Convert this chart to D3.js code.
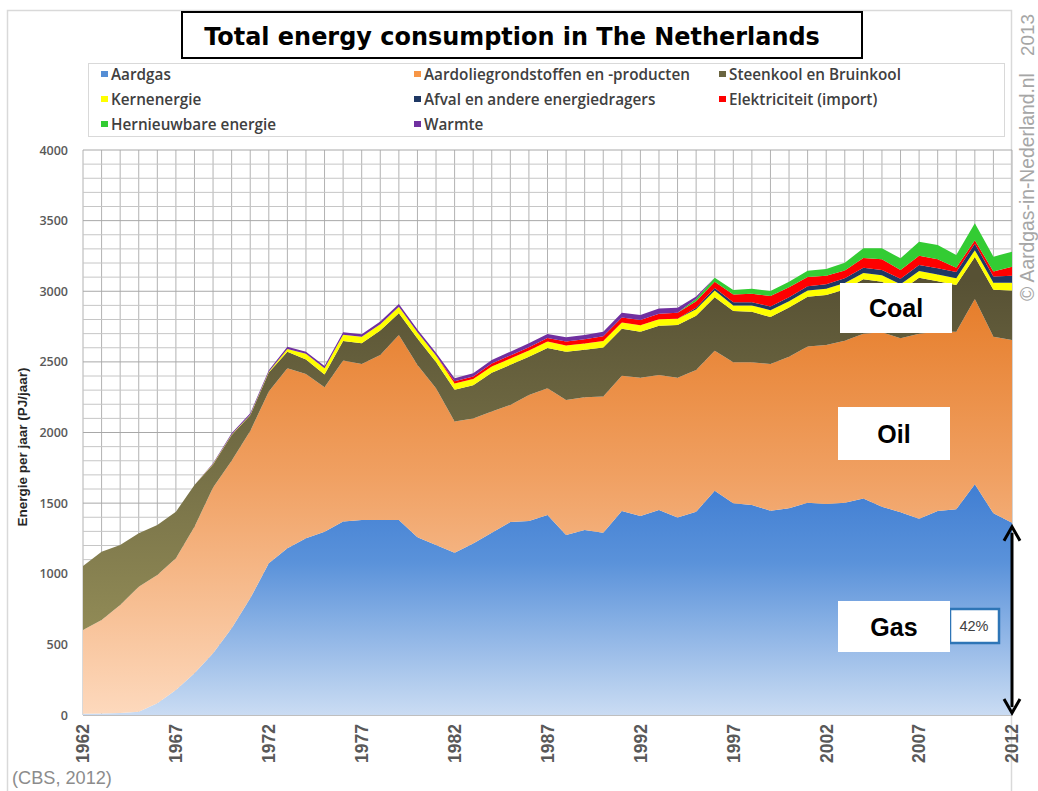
<!DOCTYPE html>
<html><head><meta charset="utf-8">
<script src="https://cdn.jsdelivr.net/npm/d3@7"></script>
<style>html,body{margin:0;padding:0;background:#fff;} svg{display:block;}</style>
</head><body>
<svg id="chart" width="1038" height="791"></svg>
<script>
// ---------------- DATA (PJ per year) ----------------
const years = [1962,1963,1964,1965,1966,1967,1968,1969,1970,1971,1972,1973,1974,1975,1976,1977,1978,1979,1980,1981,
  1982,1983,1984,1985,1986,1987,1988,1989,1990,1991,1992,1993,1994,1995,1996,1997,1998,1999,2000,2001,
  2002,2003,2004,2005,2006,2007,2008,2009,2010,2011,2012];
const aardgas = [8,10,15,23,83,177,295,437,614,826, 1074,1180,1251,1298,1370,1380,1380,1380,1258,1203,
  1149,1215,1291,1366,1373,1416,1274,1310,1291,1444, 1409,1451,1399,1439,1588,1499,1487,1446,1463,1503,
  1494,1503,1532,1475,1435,1390,1444,1456,1633,1428, 1361];
const aardolie = [594,663,764,885,908,932,1038,1173,1186,1184, 1216,1274,1164,1022,1140,1105,1169,1310,1220,1110,
  928,885,857,829,893,897,956,939,963,958, 979,956,989,1003,991,998,1010,1039,1074,1105,
  1126,1147,1168,1235,1232,1310,1270,1258,1312,1250, 1294];
const steenkool = [453,483,425,378,354,330,295,164,182,112, 135,118,102,90,137,147,173,155,187,187,
  225,234,275,284,270,286,341,336,348,332, 326,349,373,385,378,363,357,333,348,353,
  353,363,385,358,337,396,357,330,298,332, 351];
const kernenergie = [0,0,0,0,0,0,0,3,4,4, 5,20,40,45,45,45,45,45,45,45,
  45,45,45,45,45,45,45,45,45,45, 45,45,45,45,48,40,45,48,45,45,
  45,45,45,45,45,48,48,48,48,50, 55];
const afval = [0,0,0,0,0,0,0,0,0,0, 0,0,0,0,0,0,0,0,0,0,
  0,0,0,0,0,0,0,0,0,0, 0,0,0,12,18,22,24,26,28,30,
  32,34,36,38,40,42,44,45,45,45, 48];
const elektriciteit = [0,0,0,0,0,0,0,0,0,0, 0,0,0,0,0,0,0,0,0,0,
  15,18,20,22,22,25,28,30,35,35, 38,40,42,45,45,55,60,75,70,65,
  60,55,70,75,62,65,64,30,25,35, 65];
const hernieuwbaar = [0,0,0,0,0,0,0,0,0,0, 0,0,0,0,0,0,0,0,0,0,
  0,0,0,0,0,0,0,0,0,0, 0,0,0,18,28,32,35,35,40,45,
  48,55,68,78,82,100,100,90,120,105, 106];
const warmte = [0,0,0,0,0,0,0,5,8,10, 10,15,15,15,18,18,18,20,20,20,
  22,22,25,26,28,28,30,30,32,34, 35,36,36,15,0,0,0,0,0,0,
  0,0,0,0,0,0,0,0,0,0, 0];

const seriesNames = ["Aardgas","Aardoliegrondstoffen en -producten","Steenkool en Bruinkool","Kernenergie",
  "Afval en andere energiedragers","Elektriciteit (import)","Hernieuwbare energie","Warmte"];
const seriesValues = [aardgas, aardolie, steenkool, kernenergie, afval, elektriciteit, hernieuwbaar, warmte];
const yTicks = [0,500,1000,1500,2000,2500,3000,3500,4000];
const xTickYears = [1962,1967,1972,1977,1982,1987,1992,1997,2002,2007,2012];
const titleText = "Total energy consumption in The Netherlands";
const yAxisTitle = "Energie per jaar (PJ/jaar)";
const sourceText = "(CBS, 2012)";
const watermarkText = "\u00A9 Aardgas-in-Nederland.nl";
const watermarkYear = "2013";
const gasShareText = "42%";

// ---------------- LAYOUT ----------------
const svg = d3.select("#chart");
const X0 = 83, X1 = 1012, Y0 = 715, Y1 = 150;
const x = d3.scaleLinear().domain([1962, 2012]).range([X0, X1]);
const y = d3.scaleLinear().domain([0, 4000]).range([Y0, Y1]);

// scale a text's font so that it spans a target width
function fitWidth(sel, target) {
  const fs = +sel.attr("font-size");
  const w = sel.node().getComputedTextLength();
  if (w > 0) sel.attr("font-size", (fs * target / w).toFixed(2));
  return sel;
}

const solid = ["#558ed5","#f79646","#6b6540","#ffff00","#1f3864","#ff0000","#33cc33","#7030a0"];

const defs = svg.append("defs");
function grad(id, stops, ya, yb) {
  const g = defs.append("linearGradient").attr("id", id).attr("gradientUnits","userSpaceOnUse")
    .attr("x1",0).attr("x2",0).attr("y1",ya).attr("y2",yb);
  stops.forEach(s => g.append("stop").attr("offset", s[0]).attr("stop-color", s[1]));
}
grad("gGas", [[0,"#3f7dd2"],[0.35,"#5a92da"],[1,"#cadcf3"]], 480, 715);
grad("gOil", [[0,"#e57a25"],[0.45,"#f0a062"],[1,"#fdd9bd"]], 280, 715);
grad("gCoal", [[0,"#575134"],[1,"#928c57"]], 280, 640);
const fills = ["url(#gGas)","url(#gOil)","url(#gCoal)","#ffff00","#1f3864","#ff0000","#33cc33","#7030a0"];

svg.append("rect").attr("width",1038).attr("height",791).attr("fill","#fff");
svg.append("rect").attr("x",7.5).attr("y",10.5).attr("width",1004).attr("height",790)
  .attr("fill","none").attr("stroke","#d9d9d9").attr("stroke-width",1.5);

// title
svg.append("rect").attr("x",182).attr("y",12).attr("width",680).attr("height",46)
  .attr("fill","#fff").attr("stroke","#000").attr("stroke-width",2);
fitWidth(svg.append("text").attr("x",512).attr("y",45).attr("text-anchor","middle")
  .attr("font-family","DejaVu Sans").attr("font-weight","bold").attr("font-size",23)
  .attr("fill","#000").text(titleText), 616);

// legend
svg.append("rect").attr("x",88.5).attr("y",63.5).attr("width",916).attr("height",73)
  .attr("fill","#fff").attr("stroke","#d9d9d9").attr("stroke-width",1);
const legPos = [[101,75],[414,75],[719,75],[101,100],[414,100],[719,100],[101,125],[414,125]];
const legTexts = [];
seriesNames.forEach((n,i) => {
  const [lx, ly] = legPos[i];
  svg.append("rect").attr("x",lx).attr("y",ly-4).attr("width",7).attr("height",6).attr("fill",solid[i]);
  legTexts.push(svg.append("text").attr("x",lx+10).attr("y",ly+4.5)
    .attr("font-family","Open Sans").attr("font-weight","600").attr("font-size",14)
    .attr("fill","#404040").text(n));
});
fitWidth(legTexts[1], 266);
const legFs = legTexts[1].attr("font-size");
legTexts.forEach(t => t.attr("font-size", legFs));

// grid
const grid = svg.append("g");
years.forEach(yr => grid.append("line").attr("x1",x(yr)).attr("x2",x(yr)).attr("y1",Y1).attr("y2",Y0)
  .attr("stroke","#b2b2b2").attr("stroke-width",1));
d3.range(0, 4001, 100).forEach(v => grid.append("line").attr("x1",X0).attr("x2",X1).attr("y1",y(v)).attr("y2",y(v))
  .attr("stroke", v % 500 === 0 ? "#a8a8a8" : "#c6c6c6").attr("stroke-width",1));

// stacked areas
const rows = years.map((yr,i) => { const o = {year: yr}; seriesNames.forEach((n,k) => o[n] = seriesValues[k][i]); return o; });
const stack = d3.stack().keys(seriesNames).order(d3.stackOrderNone).offset(d3.stackOffsetNone);
const layers = stack(rows);
const area = d3.area().x(d => x(d.data.year)).y0(d => y(d[0])).y1(d => y(d[1])).curve(d3.curveLinear);
svg.append("g").selectAll("path").data(layers).join("path")
  .attr("d", area).attr("fill", (d,i) => fills[i]);

svg.append("line").attr("x1",X0).attr("x2",X1).attr("y1",Y0+0.5).attr("y2",Y0+0.5).attr("stroke","#bfbfbf");

// y tick labels
yTicks.forEach(v => svg.append("text").attr("x",68).attr("y",y(v)+4.5).attr("text-anchor","end")
  .attr("font-family","Open Sans").attr("font-weight","600").attr("font-size",12.5)
  .attr("fill","#595959").text(v));
// x tick labels
xTickYears.forEach(yr => svg.append("text")
  .attr("transform",`translate(${x(yr)},724) rotate(-90)`).attr("dy","0.36em")
  .attr("text-anchor","end").attr("font-family","Liberation Sans").attr("font-weight","bold")
  .attr("font-size",17.5).attr("fill","#595959").text(yr));
// y axis title
svg.append("text").attr("transform","translate(22,447) rotate(-90)").attr("dy","0.35em")
  .attr("text-anchor","middle").attr("font-family","Liberation Sans")
  .attr("font-weight","bold").attr("font-size",13.5).attr("fill","#262626").text(yAxisTitle);
// source
fitWidth(svg.append("text").attr("x",12).attr("y",784).attr("font-family","Liberation Sans")
  .attr("font-size",17).attr("fill","#8c8c8c").text(sourceText), 100);
// watermark
fitWidth(svg.append("text").attr("transform","translate(1027,301) rotate(-90)").attr("dy","0.36em")
  .attr("font-family","Liberation Sans").attr("font-size",19).attr("fill","#a6a6a6").text(watermarkText), 228);
fitWidth(svg.append("text").attr("transform","translate(1027,14) rotate(-90)").attr("dy","0.36em")
  .attr("text-anchor","end").attr("font-family","Liberation Sans").attr("font-size",19)
  .attr("fill","#a6a6a6").text(watermarkYear), 42);

// annotation boxes
function labelBox(bx, by, bw, bh, txt) {
  svg.append("rect").attr("x",bx).attr("y",by).attr("width",bw).attr("height",bh).attr("fill","#fff");
  svg.append("text").attr("x",bx+bw/2).attr("y",by+bh/2).attr("dy","0.36em").attr("text-anchor","middle")
    .attr("font-family","Liberation Sans").attr("font-weight","bold").attr("font-size",25)
    .attr("fill","#000").text(txt);
}
labelBox(840, 283, 112, 50, "Coal");
labelBox(838, 407, 112, 53, "Oil");
svg.append("rect").attr("x",950).attr("y",609).attr("width",49).attr("height",34)
  .attr("fill","#fff").attr("stroke","#2e75b6").attr("stroke-width",2.5);
svg.append("text").attr("x",974).attr("y",626).attr("dy","0.36em").attr("text-anchor","middle")
  .attr("font-family","Liberation Sans").attr("font-size",14.5).attr("fill","#404040").text(gasShareText);
labelBox(838, 601, 112, 51, "Gas");

// double arrow from 0 to the gas value of the last year
const lastGas = aardgas[aardgas.length-1];
const ax = x(2012), ayTop = y(lastGas) + 4, ayBot = y(0) - 2;
svg.append("line").attr("x1",ax).attr("x2",ax).attr("y1",ayTop+6).attr("y2",ayBot-6)
  .attr("stroke","#000").attr("stroke-width",3);
svg.append("path").attr("d",`M${ax-8},${ayTop+14} L${ax},${ayTop} L${ax+8},${ayTop+14}`)
  .attr("fill","none").attr("stroke","#000").attr("stroke-width",3);
svg.append("path").attr("d",`M${ax-8},${ayBot-14} L${ax},${ayBot} L${ax+8},${ayBot-14}`)
  .attr("fill","none").attr("stroke","#000").attr("stroke-width",3);
</script>
</body></html>
